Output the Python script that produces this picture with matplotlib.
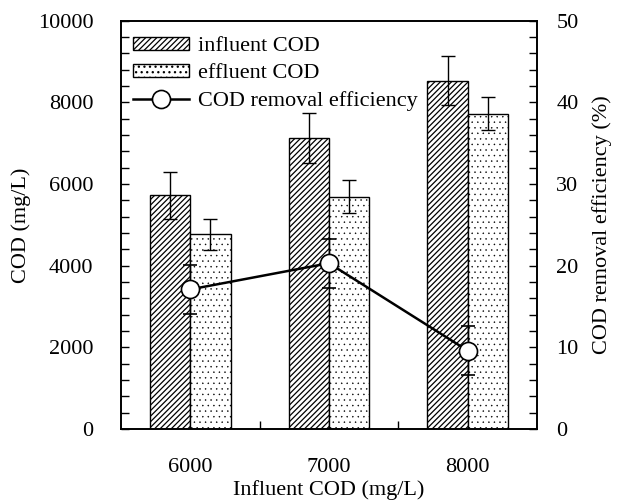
import matplotlib
matplotlib.use("Agg")
import matplotlib.pyplot as plt
import numpy as np
from matplotlib.lines import Line2D
from matplotlib.ticker import MultipleLocator, FixedLocator

# data
groups = ["6000", "7000", "8000"]
influent = [5720, 7130, 8525]
influent_err = [580, 610, 600]
effluent = [4775, 5690, 7720]
effluent_err = [380, 410, 410]
removal = [17.1, 20.3, 9.6]
removal_err = [3.0, 3.0, 3.0]

plt.rcParams["font.family"] = ["Liberation Serif", "DejaVu Serif"]
plt.rcParams["font.size"] = 16
plt.rcParams["hatch.linewidth"] = 0.9
plt.rcParams["axes.linewidth"] = 1.2

fig = plt.figure(figsize=(6.19, 5.03), dpi=100)
ax = fig.add_axes([0.1955, 0.147, 0.672, 0.812])
ax2 = ax.twinx()

x = np.arange(len(groups))
w = 0.29
ekw = dict(elinewidth=1.0, capthick=1.0)
b1 = ax.bar(x - w / 2, influent, w, yerr=influent_err, capsize=5,
            facecolor="white", edgecolor="black", linewidth=1.0,
            hatch="//////", error_kw=ekw)
b2 = ax.bar(x + w / 2, effluent, w, yerr=effluent_err, capsize=5,
            facecolor="white", edgecolor="black", linewidth=1.0,
            hatch="...", error_kw=ekw)
for p in b2:
    p.set_hatch_linewidth(0.3)

ax2.errorbar(x, removal, yerr=removal_err, color="black", lw=1.8,
             marker="o", ms=13, mfc="white", mec="black", mew=1.2,
             capsize=5, elinewidth=1.0, capthick=1.0)

ax.set_xlim(-0.5, 2.5)
ax.set_ylim(0, 10000)
ax2.set_ylim(0, 50)

ax.set_xticks(x)
ax.set_xticklabels(groups)
ax.xaxis.set_minor_locator(FixedLocator([0.5, 1.5]))
ax.tick_params(axis="x", which="major", length=0, pad=21)
ax.tick_params(axis="x", which="minor", direction="in", length=6, width=1.0)

ax.yaxis.set_major_locator(MultipleLocator(2000))
ax.yaxis.set_minor_locator(MultipleLocator(400))
ax.tick_params(axis="y", which="both", direction="in", length=6, width=1.0, pad=20)
ax2.yaxis.set_major_locator(MultipleLocator(10))
ax2.yaxis.set_minor_locator(MultipleLocator(2))
ax2.tick_params(axis="y", which="both", direction="in", length=6, width=1.0, pad=14)

ax.set_xlabel("Influent COD (mg/L)", labelpad=2)
ax.set_ylabel("COD (mg/L)", labelpad=5)
ax2.set_ylabel("COD removal efficiency (%)", labelpad=10)

line_handle = Line2D([], [], color="black", lw=1.8, marker="o", ms=13,
                     mfc="white", mec="black", mew=1.2)
ax2.legend([b1, b2, line_handle],
           ["influent COD", "effluent COD", "COD removal efficiency"],
           loc="upper left", frameon=False, handlelength=2.5, handleheight=0.5,
           handletextpad=0.4, labelspacing=0.36, borderaxespad=0.15,
           bbox_to_anchor=(0.0, 0.99))

fig.savefig("out.png", dpi=100)
